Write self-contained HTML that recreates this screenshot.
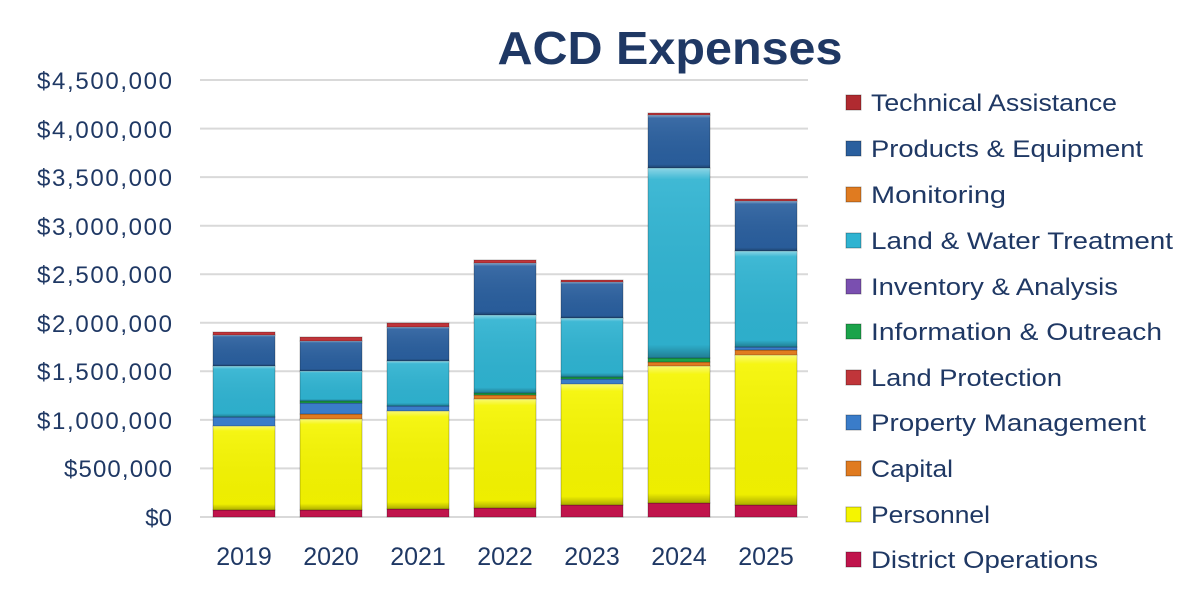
<!DOCTYPE html>
<html><head><meta charset="utf-8"><style>
html,body{margin:0;padding:0;background:#fff;}
svg{display:block;font-family:"Liberation Sans",sans-serif;}
</style></head><body>
<svg width="1200" height="605" viewBox="0 0 1200 605" xmlns="http://www.w3.org/2000/svg">
<defs>
<linearGradient id="sh" x1="0" y1="0" x2="0" y2="1">
<stop offset="0" stop-color="#fff" stop-opacity="0.45"/>
<stop offset="0.06" stop-color="#fff" stop-opacity="0.08"/>
<stop offset="0.93" stop-color="#000" stop-opacity="0.03"/>
<stop offset="1" stop-color="#000" stop-opacity="0.3"/>
</linearGradient>
</defs>
<text x="670" y="64" text-anchor="middle" font-size="46" font-weight="bold" fill="#1f3864" textLength="345" lengthAdjust="spacingAndGlyphs">ACD Expenses</text>
<g stroke="#d9d9d9" stroke-width="2">
<line x1="200" y1="517" x2="808" y2="517"/>
<line x1="200" y1="468.4" x2="808" y2="468.4"/>
<line x1="200" y1="419.9" x2="808" y2="419.9"/>
<line x1="200" y1="371.3" x2="808" y2="371.3"/>
<line x1="200" y1="322.8" x2="808" y2="322.8"/>
<line x1="200" y1="274.2" x2="808" y2="274.2"/>
<line x1="200" y1="225.7" x2="808" y2="225.7"/>
<line x1="200" y1="177.1" x2="808" y2="177.1"/>
<line x1="200" y1="128.6" x2="808" y2="128.6"/>
<line x1="200" y1="80" x2="808" y2="80"/>
</g>
<g font-size="24" fill="#1f3864" text-anchor="end" lengthAdjust="spacingAndGlyphs">
<text x="172" y="526">$0</text>
<text x="172" y="477" textLength="108">$500,000</text>
<text x="172" y="429" textLength="135">$1,000,000</text>
<text x="172" y="380" textLength="135">$1,500,000</text>
<text x="172" y="332" textLength="135">$2,000,000</text>
<text x="172" y="283" textLength="135">$2,500,000</text>
<text x="172" y="235" textLength="135">$3,000,000</text>
<text x="172" y="186" textLength="135">$3,500,000</text>
<text x="172" y="138" textLength="135">$4,000,000</text>
<text x="172" y="89" textLength="135">$4,500,000</text>
</g>
<g font-size="25" fill="#1f3864" text-anchor="middle">
<text x="244" y="565">2019</text><text x="331" y="565">2020</text><text x="418" y="565">2021</text>
<text x="505" y="565">2022</text><text x="592" y="565">2023</text><text x="679" y="565">2024</text><text x="766" y="565">2025</text>
</g>
<g id="bars" stroke="rgba(0,0,0,0.25)" stroke-width="1">
<rect x="213" y="510" width="62" height="7" fill="#c0144c"/>
<rect x="213" y="426" width="62" height="84" fill="#f5f500"/>
<rect x="213" y="417" width="62" height="9" fill="#3a7cc9"/>
<rect x="213" y="366" width="62" height="51" fill="#2fb3d1"/>
<rect x="213" y="335" width="62" height="31" fill="#2a5f9e"/>
<rect x="213" y="332" width="62" height="3" fill="#c0353a"/>
<rect x="300" y="510" width="62" height="7" fill="#c0144c"/>
<rect x="300" y="419" width="62" height="91" fill="#f5f500"/>
<rect x="300" y="414" width="62" height="5" fill="#e07b20"/>
<rect x="300" y="403" width="62" height="11" fill="#3a7cc9"/>
<rect x="300" y="401" width="62" height="2" fill="#1ba34a"/>
<rect x="300" y="371" width="62" height="30" fill="#2fb3d1"/>
<rect x="300" y="341" width="62" height="30" fill="#2a5f9e"/>
<rect x="300" y="337" width="62" height="4" fill="#c0353a"/>
<rect x="387" y="509" width="62" height="8" fill="#c0144c"/>
<rect x="387" y="411" width="62" height="98" fill="#f5f500"/>
<rect x="387" y="406" width="62" height="5" fill="#3a7cc9"/>
<rect x="387" y="361" width="62" height="45" fill="#2fb3d1"/>
<rect x="387" y="327" width="62" height="34" fill="#2a5f9e"/>
<rect x="387" y="323" width="62" height="4" fill="#c0353a"/>
<rect x="474" y="508" width="62" height="9" fill="#c0144c"/>
<rect x="474" y="399" width="62" height="109" fill="#f5f500"/>
<rect x="474" y="395" width="62" height="4" fill="#e07b20"/>
<rect x="474" y="393" width="62" height="2" fill="#1ba34a"/>
<rect x="474" y="315" width="62" height="78" fill="#2fb3d1"/>
<rect x="474" y="263" width="62" height="52" fill="#2a5f9e"/>
<rect x="474" y="260" width="62" height="3" fill="#c0353a"/>
<rect x="561" y="505" width="62" height="12" fill="#c0144c"/>
<rect x="561" y="384" width="62" height="121" fill="#f5f500"/>
<rect x="561" y="379" width="62" height="5" fill="#3a7cc9"/>
<rect x="561" y="377" width="62" height="2" fill="#1ba34a"/>
<rect x="561" y="318" width="62" height="59" fill="#2fb3d1"/>
<rect x="561" y="282" width="62" height="36" fill="#2a5f9e"/>
<rect x="561" y="280" width="62" height="2" fill="#c0353a"/>
<rect x="648" y="503" width="62" height="14" fill="#c0144c"/>
<rect x="648" y="366" width="62" height="137" fill="#f5f500"/>
<rect x="648" y="362" width="62" height="4" fill="#e07b20"/>
<rect x="648" y="358" width="62" height="4" fill="#1ba34a"/>
<rect x="648" y="168" width="62" height="190" fill="#2fb3d1"/>
<rect x="648" y="115" width="62" height="53" fill="#2a5f9e"/>
<rect x="648" y="113" width="62" height="2" fill="#c0353a"/>
<rect x="735" y="505" width="62" height="12" fill="#c0144c"/>
<rect x="735" y="355" width="62" height="150" fill="#f5f500"/>
<rect x="735" y="350" width="62" height="5" fill="#e07b20"/>
<rect x="735" y="347" width="62" height="3" fill="#3a7cc9"/>
<rect x="735" y="251" width="62" height="96" fill="#2fb3d1"/>
<rect x="735" y="201" width="62" height="50" fill="#2a5f9e"/>
<rect x="735" y="199" width="62" height="2" fill="#c0353a"/>
</g>
<g fill="url(#sh)">
<rect x="213" y="426" width="62" height="84"/><rect x="213" y="366" width="62" height="51"/><rect x="213" y="335" width="62" height="31"/>
<rect x="300" y="419" width="62" height="91"/><rect x="300" y="371" width="62" height="30"/><rect x="300" y="341" width="62" height="30"/>
<rect x="387" y="411" width="62" height="98"/><rect x="387" y="361" width="62" height="45"/><rect x="387" y="327" width="62" height="34"/>
<rect x="474" y="399" width="62" height="109"/><rect x="474" y="315" width="62" height="78"/><rect x="474" y="263" width="62" height="52"/>
<rect x="561" y="384" width="62" height="121"/><rect x="561" y="318" width="62" height="59"/><rect x="561" y="282" width="62" height="36"/>
<rect x="648" y="366" width="62" height="137"/><rect x="648" y="168" width="62" height="190"/><rect x="648" y="115" width="62" height="53"/>
<rect x="735" y="355" width="62" height="150"/><rect x="735" y="251" width="62" height="96"/><rect x="735" y="201" width="62" height="50"/>
</g>
<g stroke="rgba(0,0,0,0.3)" stroke-width="1">
<rect x="846" y="95" width="15" height="15" fill="#b02a30"/>
<rect x="846" y="141" width="15" height="15" fill="#2a5f9e"/>
<rect x="846" y="187" width="15" height="15" fill="#e07b20"/>
<rect x="846" y="233" width="15" height="15" fill="#2fb3d1"/>
<rect x="846" y="279" width="15" height="15" fill="#7a4fb0"/>
<rect x="846" y="324" width="15" height="15" fill="#1ba34a"/>
<rect x="846" y="370" width="15" height="15" fill="#c0353a"/>
<rect x="846" y="415" width="15" height="15" fill="#3a7cc9"/>
<rect x="846" y="461" width="15" height="15" fill="#e07b20"/>
<rect x="846" y="507" width="15" height="15" fill="#f5f500"/>
<rect x="846" y="552" width="15" height="15" fill="#c0144c"/>
</g>
<g font-size="24" fill="#1f3864">
<text x="871" y="111" textLength="246" lengthAdjust="spacingAndGlyphs">Technical Assistance</text>
<text x="871" y="157" textLength="272" lengthAdjust="spacingAndGlyphs">Products &amp; Equipment</text>
<text x="871" y="203" textLength="135" lengthAdjust="spacingAndGlyphs">Monitoring</text>
<text x="871" y="249" textLength="302" lengthAdjust="spacingAndGlyphs">Land &amp; Water Treatment</text>
<text x="871" y="295" textLength="247" lengthAdjust="spacingAndGlyphs">Inventory &amp; Analysis</text>
<text x="871" y="340" textLength="291" lengthAdjust="spacingAndGlyphs">Information &amp; Outreach</text>
<text x="871" y="386" textLength="191" lengthAdjust="spacingAndGlyphs">Land Protection</text>
<text x="871" y="431" textLength="275" lengthAdjust="spacingAndGlyphs">Property Management</text>
<text x="871" y="477" textLength="82" lengthAdjust="spacingAndGlyphs">Capital</text>
<text x="871" y="523" textLength="119" lengthAdjust="spacingAndGlyphs">Personnel</text>
<text x="871" y="568" textLength="227" lengthAdjust="spacingAndGlyphs">District Operations</text>
</g>
</svg>
</body></html>
